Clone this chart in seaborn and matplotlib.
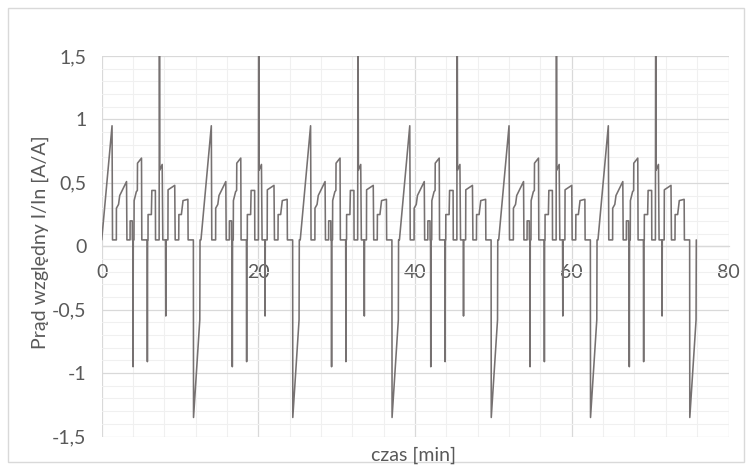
import matplotlib
matplotlib.use("Agg")
import matplotlib.pyplot as plt
from matplotlib.patches import Rectangle
from matplotlib.ticker import MultipleLocator, FixedLocator, FixedFormatter
import numpy as np
import pandas as pd
import seaborn as sns

# ---- data ----
# one cycle of the relative current (time in min from cycle start, value in A/A)
cycle_t = [0.00, 1.32, 1.38, 1.87, 1.88, 2.15, 2.30, 3.17, 3.22, 3.62, 3.63, 3.90,
           3.91, 3.97, 4.00, 4.03, 4.12, 4.14, 4.42, 4.55, 4.57, 5.08, 5.12, 5.80,
           5.83, 5.86, 5.91, 5.92, 6.34, 6.40, 6.85, 6.87, 7.33, 7.37, 7.42, 7.72,
           7.80, 8.15, 8.18, 8.21, 8.45, 8.47, 9.32, 9.38, 9.83, 9.85, 10.17, 10.38,
           11.00, 11.03, 11.70, 11.72, 12.52, 12.55]
cycle_v = [0.05, 0.95, 0.05, 0.05, 0.30, 0.33, 0.40, 0.51, 0.05, 0.05, 0.20, 0.20,
           0.05, 0.05, -0.95, 0.05, 0.05, 0.36, 0.43, 0.44, 0.655, 0.695, 0.05, 0.05,
           -0.91, 0.05, 0.05, 0.25, 0.25, 0.44, 0.44, 0.05, 0.05, 2.20, 0.60, 0.645,
           0.05, 0.05, -0.55, 0.05, 0.05, 0.445, 0.48, 0.05, 0.05, 0.25, 0.25, 0.36,
           0.37, 0.05, 0.05, -1.35, -0.58, 0.05]
# start times of the six cycles
cycle_starts = [0.0, 12.67, 25.34, 38.0, 50.67, 63.34]

x_ticks = [0, 20, 40, 60, 80]
x_tick_labels = ["0", "20", "40", "60", "80"]
y_ticks = [-1.5, -1.0, -0.5, 0.0, 0.5, 1.0, 1.5]
y_tick_labels = ["-1,5", "-1", "-0,5", "0", "0,5", "1", "1,5"]

x_label = "czas [min]"
y_label = "Prąd względny I/In [A/A]"

# ---- build table ----
rows_t, rows_v, order = [], [], []
k = 0
for s in cycle_starts:
    for t, v in zip(cycle_t, cycle_v):
        rows_t.append(s + t)
        rows_v.append(v)
        order.append(k)
        k += 1
df = pd.DataFrame({"t": rows_t, "v": rows_v, "o": order})

# ---- style ----
sns.set_theme(style="white")
plt.rcParams["font.family"] = ["Lato", "DejaVu Sans"]
TXT = "#595959"
FS = 14

W, H = 752, 470
fig = plt.figure(figsize=(W / 100, H / 100), dpi=100)
L, R, T, B = 101.7, 728.5, 56.0, 436.5
ax = fig.add_axes([L / W, 1 - B / H, (R - L) / W, (B - T) / H])

# chart border
fig.patches.append(Rectangle((8 / W, 8 / H), (744 - 8) / W, (462 - 8) / H,
                             transform=fig.transFigure, fill=False,
                             edgecolor="#d9d9d9", linewidth=1.0))

sns.lineplot(data=df, x="t", y="v", sort=False, estimator=None, ax=ax,
             color="#767171", linewidth=1.15, zorder=3)

ax.set_xlim(0, 80)
ax.set_ylim(-1.5, 1.5)

ax.xaxis.set_major_locator(FixedLocator(x_ticks))
ax.xaxis.set_major_formatter(FixedFormatter(x_tick_labels))
ax.yaxis.set_major_locator(FixedLocator(y_ticks))
ax.yaxis.set_major_formatter(FixedFormatter(y_tick_labels))
ax.xaxis.set_minor_locator(MultipleLocator(4))
ax.yaxis.set_minor_locator(MultipleLocator(0.1))

ax.set_axisbelow(True)
ax.grid(which="major", color="#d9d9d9", linewidth=0.9)
ax.grid(which="minor", color="#f0f0f0", linewidth=0.8)

for side in ["top", "right", "left"]:
    ax.spines[side].set_visible(False)
ax.spines["bottom"].set_position(("data", 0))
ax.spines["bottom"].set_color("#d9d9d9")
ax.spines["bottom"].set_linewidth(0.9)

ax.tick_params(axis="x", which="both", length=0, pad=12.5, labelsize=FS, labelcolor=TXT)
ax.tick_params(axis="y", which="both", length=0, pad=11, labelsize=FS, labelcolor=TXT)

ax.set_xlabel("")
ax.set_ylabel("")
fig.text(414 / W, 1 - 455 / H, x_label, ha="center", va="center",
         fontsize=FS, color=TXT)
fig.text(40 / W, 1 - 242 / H, y_label, ha="center", va="center",
         rotation=90, fontsize=FS, color=TXT)

fig.savefig("out.png", dpi=100)
